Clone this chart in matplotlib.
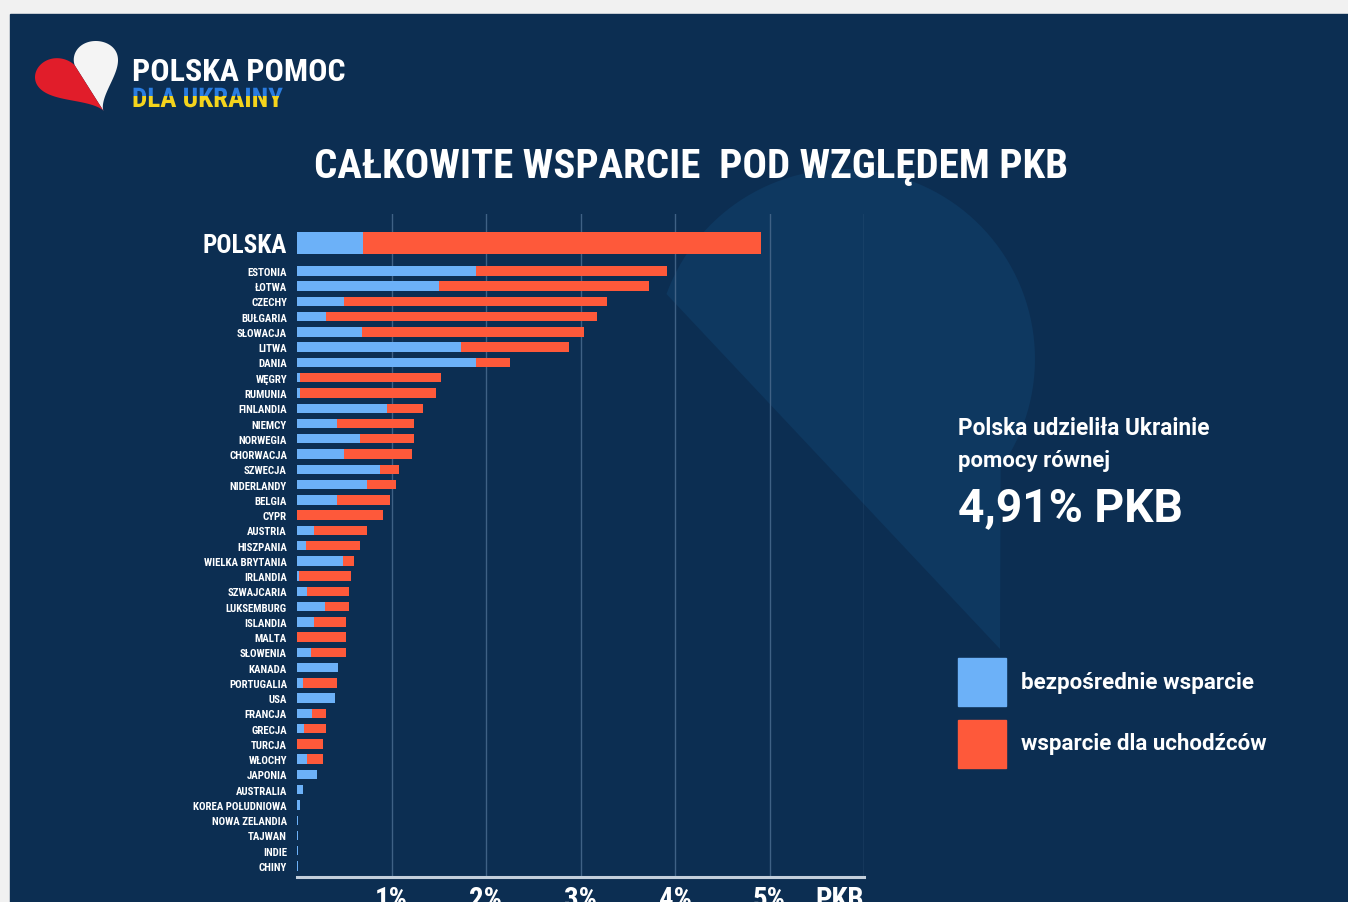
import numpy as np
import matplotlib
matplotlib.use("Agg")
import matplotlib.pyplot as plt
import matplotlib.patheffects as pe
from matplotlib import font_manager as fm
from matplotlib.patches import Rectangle, Polygon

# dane: wsparcie w % PKB
countries = ["POLSKA", "ESTONIA", "ŁOTWA", "CZECHY", "BUŁGARIA", "SŁOWACJA", "LITWA",
             "DANIA", "WĘGRY", "RUMUNIA", "FINLANDIA", "NIEMCY", "NORWEGIA", "CHORWACJA",
             "SZWECJA", "NIDERLANDY", "BELGIA", "CYPR", "AUSTRIA", "HISZPANIA",
             "WIELKA BRYTANIA", "IRLANDIA", "SZWAJCARIA", "LUKSEMBURG", "ISLANDIA", "MALTA",
             "SŁOWENIA", "KANADA", "PORTUGALIA", "USA", "FRANCJA", "GRECJA", "TURCJA",
             "WŁOCHY", "JAPONIA", "AUSTRALIA", "KOREA POŁUDNIOWA", "NOWA ZELANDIA",
             "TAJWAN", "INDIE", "CHINY"]
direct = [0.70, 1.89, 1.50, 0.50, 0.31, 0.69, 1.74, 1.89, 0.03, 0.03, 0.95, 0.42, 0.67,
          0.50, 0.88, 0.74, 0.42, 0.0, 0.18, 0.10, 0.49, 0.02, 0.11, 0.30, 0.18, 0.0,
          0.15, 0.43, 0.06, 0.40, 0.16, 0.07, 0.0, 0.11, 0.21, 0.06, 0.03, 0.015, 0.01,
          0.01, 0.01]
refugees = [4.21, 2.03, 2.23, 2.78, 2.86, 2.35, 1.14, 0.36, 1.49, 1.44, 0.38, 0.82, 0.57,
            0.72, 0.20, 0.31, 0.56, 0.91, 0.56, 0.57, 0.11, 0.55, 0.44, 0.25, 0.34, 0.52,
            0.37, 0.0, 0.36, 0.0, 0.15, 0.24, 0.28, 0.16, 0.0, 0.0, 0.0, 0.0, 0.0, 0.0, 0.0]
xticks = [1, 2, 3, 4, 5, 6]
xticklabels = ["1%", "2%", "3%", "4%", "5%", "PKB"]

NAVY = "#0c2e52"
LOBE = "#0e3860"
BLUE = "#6cb1f8"
RED = "#fe593a"
GRID = "#3f6185"

names = {f.name for f in fm.fontManager.ttflist}
def pick(*cands):
    for c in cands:
        if c in names:
            return c
    return "DejaVu Sans"

COND = pick("Roboto Condensed", "Liberation Sans Narrow", "DejaVu Sans")
BODY = pick("Roboto", "Lato", "Open Sans", "DejaVu Sans")

W, H = 1348, 903
fig = plt.figure(figsize=(W / 100, H / 100), dpi=100, facecolor="#f1f1f1")
bg = fig.add_axes([0, 0, 1, 1])
bg.set_xlim(0, W)
bg.set_ylim(H, 0)
bg.axis("off")
bg.add_patch(Rectangle((10, 15), W - 10, H - 15, color=NAVY, zorder=0))

# jasniejszy "plat" serca w tle
a = np.radians(np.linspace(160, -35, 80))
lx = 845 + 190 * np.cos(a)
ly = 360 - 190 * np.sin(a)
lobe = np.column_stack([np.r_[lx, 1000], np.r_[ly, 650]])
bg.add_patch(Polygon(lobe, closed=True, color=LOBE, zorder=0.5, lw=0))

# logo - serce
t = np.linspace(0, 2 * np.pi, 400)
hx = 16 * np.sin(t) ** 3
hy = 13 * np.cos(t) - 5 * np.cos(2 * t) - 2 * np.cos(3 * t) - np.cos(4 * t)
th = np.radians(28)
X = hx * np.cos(th) - hy * np.sin(th)
Y = hx * np.sin(th) + hy * np.cos(th)
px = 35 + (X - X.min()) * 83 / (X.max() - X.min())
py = 42 + (Y.max() - Y) * 70 / (Y.max() - Y.min())
half = len(t) // 2
bg.add_patch(Polygon(np.column_stack([px[:half], py[:half]]), color="#f4f4f4", lw=0, zorder=2))
bg.add_patch(Polygon(np.column_stack([px[half:], py[half:]]), color="#e11d2a", lw=0, zorder=2))

r = fig.canvas.get_renderer()
def fit(txt, width):
    bb = txt.get_window_extent(r)
    txt.set_fontsize(txt.get_fontsize() * width / bb.width)
    return txt

fit(bg.text(132, 81, "POLSKA POMOC", color="white", fontsize=20, fontweight="bold",
            family=COND, va="baseline"), 213)
# "DLA UKRAINY" - gora niebieska, dol zolta
for col, y0, y1 in [("#2a7de1", 80, 97), ("#f5d41c", 97, 115)]:
    tt = bg.text(132, 108, "DLA UKRAINY", color=col, fontsize=20, fontweight="bold",
                 family=COND, va="baseline", clip_on=True, path_effects=[pe.Normal()])
    fit(tt, 151)
    clip = Rectangle((120 / W, (H - y1) / H), 200 / W, (y1 - y0) / H,
                     transform=fig.transFigure)
    tt.set_clip_path(clip)

fit(bg.text(314, 178, "CAŁKOWITE WSPARCIE  POD WZGLĘDEM PKB", color="white", fontsize=30,
            fontweight="bold", family=COND, va="baseline"), 752)

fit(bg.text(958, 435, "Polska udzieliła Ukrainie", color="white", fontsize=15,
            fontweight="bold", family=BODY, va="baseline"), 252)
fit(bg.text(958, 467, "pomocy równej", color="white", fontsize=15,
            fontweight="bold", family=BODY, va="baseline"), 153)
fit(bg.text(958, 521, "4,91% PKB", color="white", fontsize=30,
            fontweight="bold", family=BODY, va="baseline"), 225)

bg.add_patch(Rectangle((958, 659), 48, 48, color=BLUE, zorder=2))
bg.add_patch(Rectangle((958, 721), 48, 48, color=RED, zorder=2))
fit(bg.text(1021, 689, "bezpośrednie wsparcie", color="white", fontsize=15,
            fontweight="bold", family=BODY, va="baseline"), 234)
fit(bg.text(1021, 750, "wsparcie dla uchodźców", color="white", fontsize=15,
            fontweight="bold", family=BODY, va="baseline"), 246)

# wykres
ax = fig.add_axes([297 / W, 25 / H, 567 / W, 663 / H])
ax.set_facecolor("none")
n = len(countries)
ypos = np.array([0] + [1.83 + i for i in range(n - 1)])
heights = np.array([1.5] + [0.62] * (n - 1))
ax.barh(ypos, direct, height=heights, color=BLUE, zorder=3)
ax.barh(ypos, refugees, left=direct, height=heights, color=RED, zorder=3)
ax.set_xlim(0, 6)
ax.set_ylim(41.55, -1.9)
for v in range(1, 7):
    ax.axvline(v, color=GRID, lw=1, zorder=1)
for sp in ["top", "right", "left"]:
    ax.spines[sp].set_visible(False)
ax.spines["bottom"].set_color("#c3cfdc")
ax.spines["bottom"].set_linewidth(2.2)

ax.set_yticks(ypos, countries)
ax.tick_params(axis="y", length=0, pad=7.2, colors="white")
labs = ax.get_yticklabels()
for lb in labs:
    lb.set_fontweight("bold")
    lb.set_family(COND)
    lb.set_fontsize(7)
bb = labs[countries.index("WIELKA BRYTANIA")].get_window_extent(r)
fs = 7 * 83 / bb.width
for lb in labs[1:]:
    lb.set_fontsize(fs)
fit(labs[0], 84)

ax.set_xticks(xticks, xticklabels)
ax.tick_params(axis="x", length=0, pad=6, colors="white")
xl = ax.get_xticklabels()
for lb in xl:
    lb.set_fontweight("bold")
    lb.set_family(COND)
    lb.set_fontsize(14)
xfs = 14 * 33 / xl[0].get_window_extent(r).width
for lb in xl:
    lb.set_fontsize(xfs)
xl[-1].set_horizontalalignment("right")

fig.savefig("out.png", dpi=100, facecolor=fig.get_facecolor())
